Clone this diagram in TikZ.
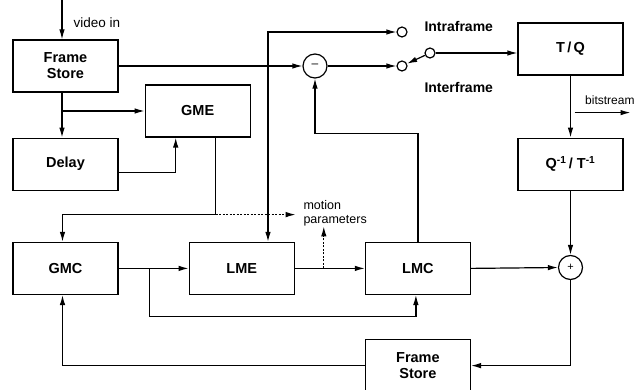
\documentclass[tikz,border=0pt]{standalone}
\usepackage{fontspec}
\setmainfont{Liberation Sans}
\usetikzlibrary{arrows.meta,positioning}

\begin{document}
\begin{tikzpicture}[
    x=1pt, y=-1pt,
    box/.style={rectangle, draw, line width=1.2pt, align=center, minimum width=105pt, minimum height=52pt, font=\fontsize{14.5}{16}\selectfont\bfseries},
    sum/.style={circle, draw, line width=1.2pt, minimum size=24pt, inner sep=0pt},
    pin/.style={circle, draw, line width=1.2pt, minimum size=10pt, inner sep=0pt},
    line/.style={-{Latex[length=10pt, width=5.5pt]}, line width=1.2pt},
    lbl/.style={font=\fontsize{12.5}{14}\selectfont, align=left},
    sw/.style={font=\fontsize{14}{15}\selectfont\bfseries}
]
\useasboundingbox (0,0) rectangle (639,390);

\node[box] (fs1) at (65.5,66) {Frame\\Store};
\node[box, below=45pt of fs1] (delay) {Delay};
\node[box, below=51pt of delay] (gmc) {GMC};
\node[box, right=26pt of fs1, yshift=-45pt] (gme) {GME};
\node[box, right=70pt of gmc] (lme) {LME};
\node[box, right=70pt of lme] (lmc) {LMC};
\node[box, below=44pt of lmc] (fs2) {Frame\\Store};
\node[box] (tq) at (570.5,49) {T\,/\,Q};
\node[box, below=62pt of tq] (iq) {Q\textsuperscript{-1}\,/\;T\textsuperscript{-1}};

\node[sum] (minus) at (315,66) {\fontsize{12}{12}\selectfont --};
\node[sum] (plus) at (570.5,267.5) {\fontsize{11}{11}\selectfont +};
\node[pin] (intra) at (402,32) {};
\node[pin] (inter) at (402,66) {};
\node[pin] (common) at (430,53) {};

\node[sw, anchor=west] (intratxt) at (421,26) {Intraframe};
\node[sw, anchor=west] (intertxt) at (421,87) {Interframe};
\node[lbl, anchor=west, font=\fontsize{13.5}{14}\selectfont] (vintxt) at (70,23) {video in};
\node[lbl, anchor=north west] (mptxt) at (300,197) {motion\\parameters};
\node[lbl, anchor=west, font=\fontsize{12}{14}\selectfont, inner sep=1pt] (bstxt) at (584,100) {bitstream};

\coordinate (vin) at (62,0);
\coordinate (tap) at (268,66);

\draw[line] (vin) -- (vin |- fs1.north);
\draw[line] ([xshift=-3.5pt]fs1.south) -- ([xshift=-3.5pt]delay.north);
\draw[line] ([xshift=-3.5pt]fs1.south |- gme.west) -- (gme.west);
\draw[line] ([yshift=-8pt]delay.east) -| ([xshift=-22pt]gme.south);
\path ([xshift=18pt]gme.south) ++(0,77) coordinate (mp);
\draw[line] ([xshift=18pt]gme.south) -- (mp) -| ([xshift=-3pt]gmc.north);
\draw[line, dash pattern=on 2pt off 1.5pt] (mp) -- ++(80,0);

\draw[line] (fs1.east) -- (minus.west);
\draw[line] (tap) |- (intra.west);
\draw[line] (tap) -- (tap |- lme.north);
\draw[line] (minus.east) -- (inter.west);
\draw[line] (common) -- (inter);
\draw[line] (common) -- (common -| tq.west);

\draw[line] (tq.south) -- (iq.north);
\path ([xshift=4pt]tq.south) ++(0,37) coordinate (bs);
\draw[line] (bs) -- ++(56,0);
\draw[line] (iq.south) -- (plus.north);

\draw[line] (gmc.east) -- (lme.west);
\draw[line] ([xshift=31pt]gmc.east) -- ++(0,48) -| ([xshift=-2pt]lmc.south);
\draw[line] (lme.east) -- (lmc.west);
\draw[line, dash pattern=on 2pt off 1.5pt] (lme.east) ++(29,0) -- ++(0,-42);
\draw[line] (lmc.north) -- ++(0,-108) -| (minus.south);
\draw[line] (lmc.east) -- (plus.west);
\draw[line] (plus.south) |- (fs2.east);
\draw[line] (fs2.west) -| ([xshift=-3pt]gmc.south);
\end{tikzpicture}
\end{document}
